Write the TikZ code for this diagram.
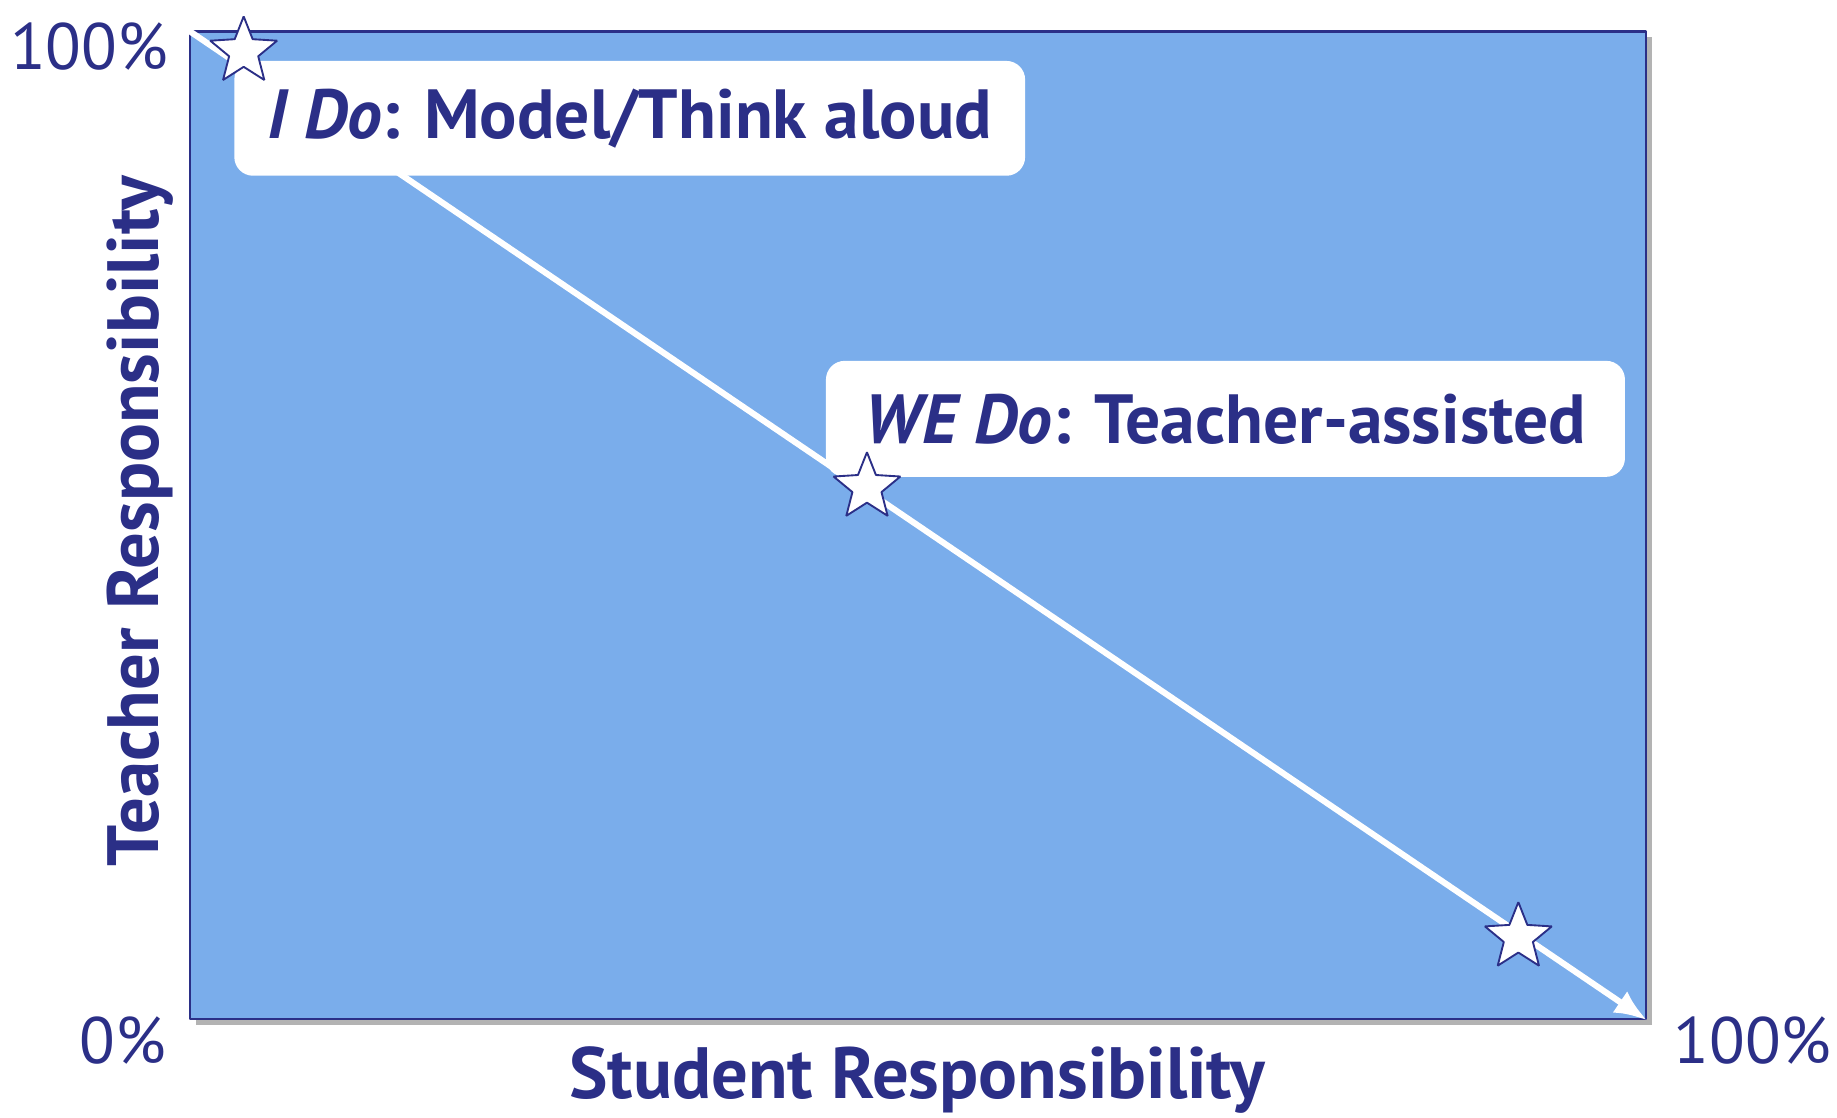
\documentclass[tikz,border=0pt]{standalone}
\usepackage{fontspec}
\setmainfont{PT Sans}
\usetikzlibrary{shapes,arrows.meta,shadows,positioning}
\definecolor{navy}{RGB}{43,47,135}
\definecolor{sky}{RGB}{122,173,235}

\begin{document}
\begin{tikzpicture}[x=0.5pt,y=-0.5pt,>={Latex[length=14pt,width=11pt]},line join=bevel,
  axislab/.style={text=navy,font=\bfseries\fontsize{31}{34}\selectfont},
  pct/.style={text=navy,font=\fontsize{28}{32}\selectfont},
  tag/.style={fill=white,rounded corners=8pt,text=navy,inner sep=0pt,
    font=\bfseries\fontsize{29.7}{32}\selectfont},
  milestone/.style={star,star points=5,star point ratio=2.3,minimum size=30pt,
    inner sep=0pt,fill=white,draw=navy,line width=0.8pt}]
\useasboundingbox (0,0) rectangle (1568,954);
% plot area
\node (plot) [draw=navy,line width=1pt,fill=sky,inner sep=0pt,
  minimum width=621.5pt,minimum height=421.5pt,
  drop shadow={shadow xshift=2.5pt,shadow yshift=-2.5pt,opacity=0.6}] at (783.5,448.5) {};
\draw [->,white,line width=2.6pt] (plot.north west) -- (plot.south east);
% stage labels
\node (ido) [tag,minimum width=337.5pt,minimum height=49pt] at (537.5,101)
  {\textit{I Do}: Model/Think aloud};
\node (wedo) [tag,minimum width=341pt,minimum height=49.5pt] at (1046,357.5)
  {\textit{WE Do}: Teacher-assisted};
% stars on the line
\node (s1) [milestone] at (208,44) {};
\node (s2) [milestone] at (740,416) {};
\node (s3) [milestone] at (1296,800) {};
% axis texts
\node (top) [pct] at (76,40) {100\%};
\node (zero) [pct] at (105,888) {0\%};
\node (full) [pct] at (1496,888) {100\%};
\node (student) [axislab] at (783,922) {Student Responsibility};
\node (teacher) [axislab,rotate=90] at (120,445) {Teacher Responsibility};
\end{tikzpicture}
\end{document}
